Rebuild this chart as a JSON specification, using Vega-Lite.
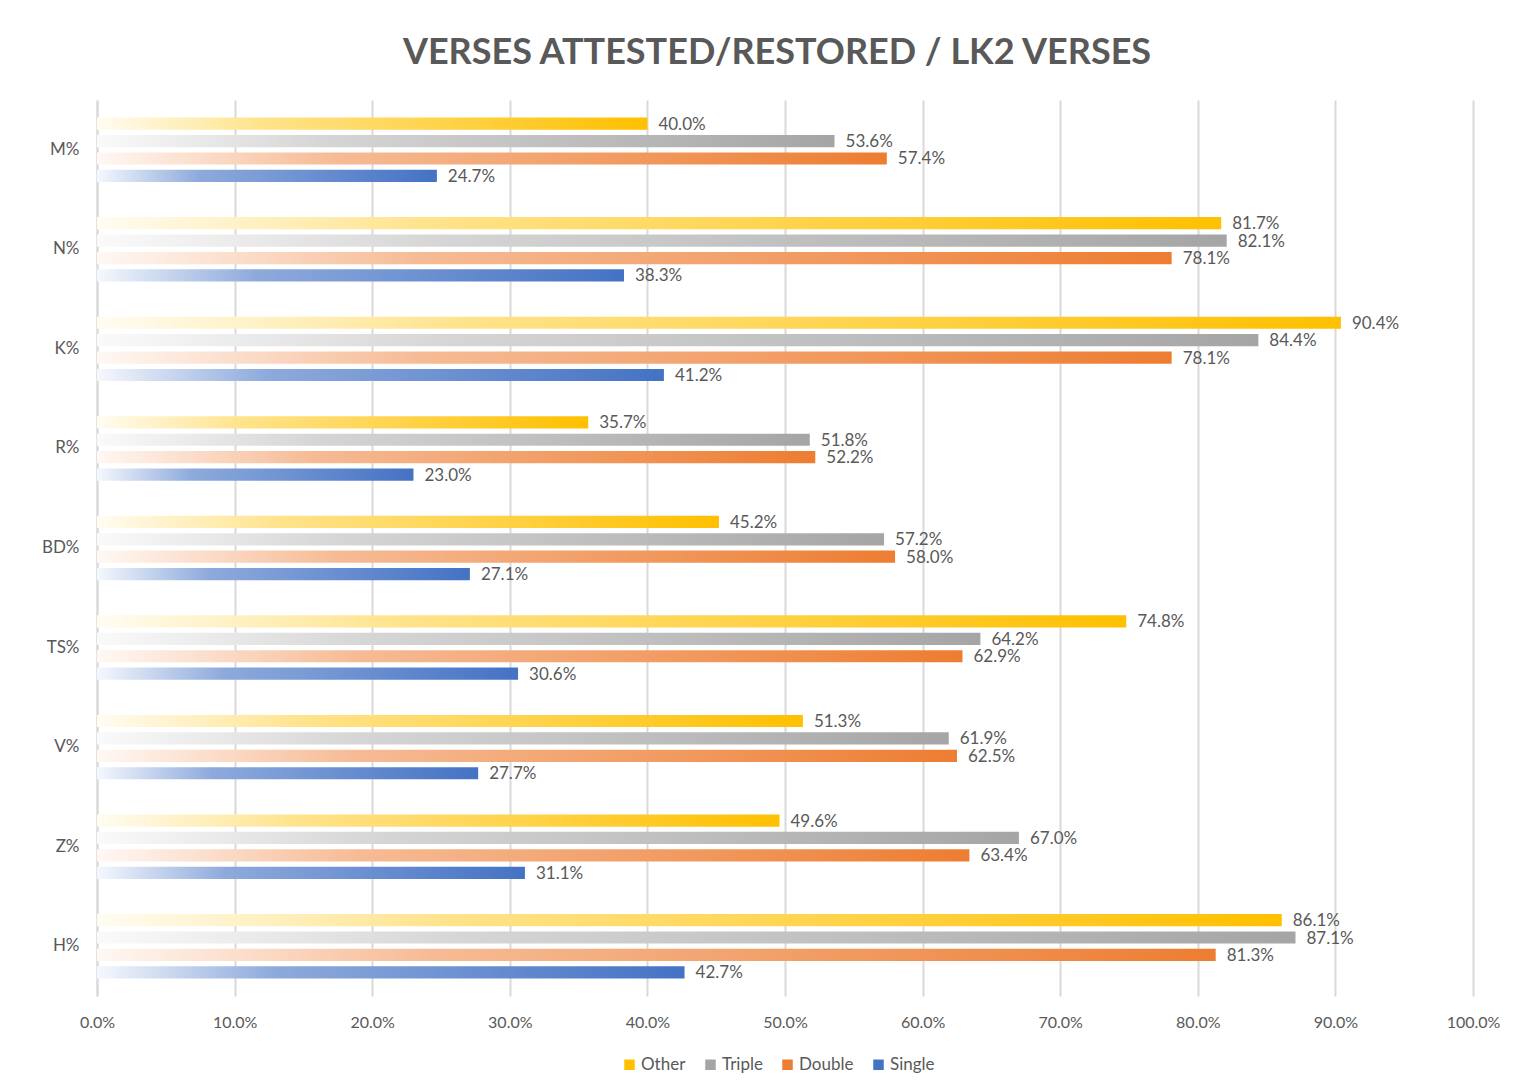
{
  "$schema": "https://vega.github.io/schema/vega-lite/v6.json",
  "width": 1376,
  "height": 896,
  "autosize": {"type": "none"},
  "padding": {"left": 97, "top": 100, "right": 65, "bottom": 92},
  "background": "white",
  "title": {
    "text": "VERSES ATTESTED/RESTORED / LK2 VERSES",
    "font": "Lato",
    "fontSize": 36,
    "fontWeight": "bold",
    "color": "#595959",
    "offset": 28,
    "dx": -8,
    "anchor": "middle"
  },
  "config": {
    "view": {"stroke": null},
    "font": "Lato"
  },
  "data": {
    "values": [
      {"cat": "M%", "series": "Other", "value": 0.400},
      {"cat": "M%", "series": "Triple", "value": 0.536},
      {"cat": "M%", "series": "Double", "value": 0.574},
      {"cat": "M%", "series": "Single", "value": 0.247},
      {"cat": "N%", "series": "Other", "value": 0.817},
      {"cat": "N%", "series": "Triple", "value": 0.821},
      {"cat": "N%", "series": "Double", "value": 0.781},
      {"cat": "N%", "series": "Single", "value": 0.383},
      {"cat": "K%", "series": "Other", "value": 0.904},
      {"cat": "K%", "series": "Triple", "value": 0.844},
      {"cat": "K%", "series": "Double", "value": 0.781},
      {"cat": "K%", "series": "Single", "value": 0.412},
      {"cat": "R%", "series": "Other", "value": 0.357},
      {"cat": "R%", "series": "Triple", "value": 0.518},
      {"cat": "R%", "series": "Double", "value": 0.522},
      {"cat": "R%", "series": "Single", "value": 0.230},
      {"cat": "BD%", "series": "Other", "value": 0.452},
      {"cat": "BD%", "series": "Triple", "value": 0.572},
      {"cat": "BD%", "series": "Double", "value": 0.580},
      {"cat": "BD%", "series": "Single", "value": 0.271},
      {"cat": "TS%", "series": "Other", "value": 0.748},
      {"cat": "TS%", "series": "Triple", "value": 0.642},
      {"cat": "TS%", "series": "Double", "value": 0.629},
      {"cat": "TS%", "series": "Single", "value": 0.306},
      {"cat": "V%", "series": "Other", "value": 0.513},
      {"cat": "V%", "series": "Triple", "value": 0.619},
      {"cat": "V%", "series": "Double", "value": 0.625},
      {"cat": "V%", "series": "Single", "value": 0.277},
      {"cat": "Z%", "series": "Other", "value": 0.496},
      {"cat": "Z%", "series": "Triple", "value": 0.670},
      {"cat": "Z%", "series": "Double", "value": 0.634},
      {"cat": "Z%", "series": "Single", "value": 0.311},
      {"cat": "H%", "series": "Other", "value": 0.861},
      {"cat": "H%", "series": "Triple", "value": 0.871},
      {"cat": "H%", "series": "Double", "value": 0.813},
      {"cat": "H%", "series": "Single", "value": 0.427}
    ]
  },
  "encoding": {
    "y": {
      "field": "cat",
      "type": "nominal",
      "sort": ["M%", "N%", "K%", "R%", "BD%", "TS%", "V%", "Z%", "H%"],
      "scale": {"paddingInner": 0.3, "paddingOuter": 0.15},
      "axis": {
        "title": null,
        "ticks": false,
        "domain": true,
        "domainColor": "#d9d9d9",
        "domainWidth": 2,
        "labelFont": "Lato",
        "labelFontSize": 17,
        "labelColor": "#595959",
        "labelPadding": 18
      }
    },
    "yOffset": {
      "field": "series",
      "type": "nominal",
      "scale": {"domain": ["Other", "Triple", "Double", "Single"], "paddingInner": 0.3, "paddingOuter": 0.15}
    },
    "x": {
      "field": "value",
      "type": "quantitative",
      "scale": {"domain": [0, 1], "nice": false},
      "axis": {
        "title": null,
        "format": ".1%",
        "values": [0, 0.1, 0.2, 0.3, 0.4, 0.5, 0.6, 0.7, 0.8, 0.9, 1.0],
        "grid": true,
        "gridColor": "#d9d9d9",
        "gridWidth": 2,
        "ticks": false,
        "domain": false,
        "labelFlush": false,
        "labelFont": "Lato",
        "labelFontSize": 16,
        "labelColor": "#595959",
        "labelPadding": 18
      }
    }
  },
  "layer": [
    {
      "transform": [{"filter": "datum.series === 'Other'"}],
      "mark": {"type": "bar", "fill": {"gradient": "linear", "x1": 0, "y1": 0, "x2": 1, "y2": 0, "stops": [{"offset": 0, "color": "#fffcf2"}, {"offset": 0.3, "color": "#ffe38a"}, {"offset": 1, "color": "#ffc000"}]}}
    },
    {
      "transform": [{"filter": "datum.series === 'Triple'"}],
      "mark": {"type": "bar", "fill": {"gradient": "linear", "x1": 0, "y1": 0, "x2": 1, "y2": 0, "stops": [{"offset": 0, "color": "#fafafa"}, {"offset": 0.3, "color": "#d6d6d6"}, {"offset": 1, "color": "#a5a5a5"}]}}
    },
    {
      "transform": [{"filter": "datum.series === 'Double'"}],
      "mark": {"type": "bar", "fill": {"gradient": "linear", "x1": 0, "y1": 0, "x2": 1, "y2": 0, "stops": [{"offset": 0, "color": "#fff8f4"}, {"offset": 0.3, "color": "#f6bb95"}, {"offset": 1, "color": "#ed7d31"}]}}
    },
    {
      "transform": [{"filter": "datum.series === 'Single'"}],
      "mark": {"type": "bar", "fill": {"gradient": "linear", "x1": 0, "y1": 0, "x2": 1, "y2": 0, "stops": [{"offset": 0, "color": "#f5f8fd"}, {"offset": 0.3, "color": "#8eaadc"}, {"offset": 1, "color": "#4472c4"}]}}
    },
    {
      "mark": {"type": "bar", "opacity": 0},
      "encoding": {
        "color": {
          "field": "series",
          "type": "nominal",
          "scale": {
            "domain": ["Other", "Triple", "Double", "Single"],
            "range": ["#ffc000", "#a5a5a5", "#ed7d31", "#4472c4"]
          },
          "legend": {
            "title": null,
            "orient": "none",
            "legendX": 524,
            "legendY": 956,
            "direction": "horizontal",
            "symbolType": "square",
            "symbolSize": 110,
            "symbolOpacity": 1,
            "symbolStrokeWidth": 0,
            "labelFont": "Lato",
            "labelFontSize": 17,
            "labelColor": "#595959",
            "columnPadding": 16,
            "labelOffset": 3
          }
        }
      }
    },
    {
      "mark": {"type": "text", "align": "left", "baseline": "middle", "dx": 11, "dy": 1, "font": "Lato", "fontSize": 17, "color": "#595959"},
      "encoding": {
        "text": {"field": "value", "type": "quantitative", "format": ".1%"}
      }
    }
  ]
}
